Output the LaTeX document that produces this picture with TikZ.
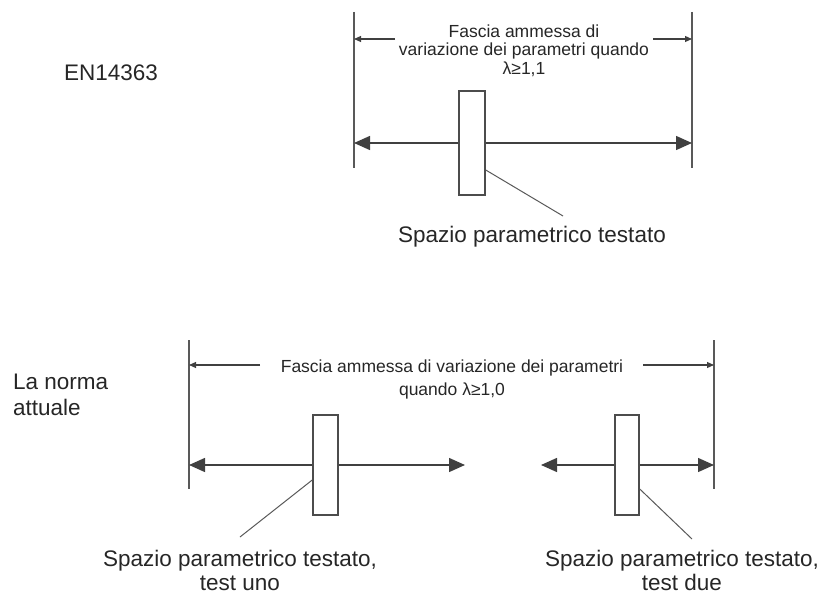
\documentclass[tikz,border=0pt]{standalone}
\usepackage{fontspec}
\setmainfont{Liberation Sans}
\usetikzlibrary{arrows.meta}
\usetikzlibrary{calc}

\begin{document}
\begin{tikzpicture} [
    x = 1pt, y = -1pt,
    tbox/.style = {draw = black!70, line width = 1.5pt, fill = white, inner sep = 0pt},
    guide/.style = {draw = black!65, line width = 1.7pt},
    mainarrow/.style = {draw = black!75, line width = 1.4pt, -{Triangle[length = 16pt, width = 14pt]}},
    dimarrow/.style = {draw = black!75, line width = 1.1pt, -{Triangle[length = 7pt, width = 6pt]}},
    leader/.style = {draw = black!65, line width = 1pt},
    bigtext/.style = {text = black!85, font = \fontsize{22.5}{25}\selectfont, inner sep = 0pt},
    smalltext/.style = {text = black!85, font = \fontsize{17.5}{19}\selectfont, align = center, inner sep = 0pt}
]
\useasboundingbox (0,0) rectangle (823,594);

% top: EN14363
\node (en) at (111,81) [bigtext, anchor = base] {EN14363};

\coordinate (tlt) at (354,12);
\coordinate (tlb) at (354,168);
\coordinate (trt) at (692,12);
\coordinate (trb) at (692,168);
\draw [guide] (tlt) -- (tlb);
\draw [guide] (trt) -- (trb);

\node (tdim) at (524,75) [smalltext, anchor = base] {Fascia ammessa di\\variazione dei parametri quando\\λ≥1,1};
\coordinate (tdl) at (354,39);
\coordinate (tdr) at (692,39);
\draw [dimarrow] (395,39) -- (tdl);
\draw [dimarrow] (653,39) -- (tdr);

\node (tbox) at (472,143) [tbox, minimum width = 26, minimum height = 104] {};
\coordinate (tml) at (354,143);
\coordinate (tmr) at (692,143);
\draw [mainarrow] (tbox.west) -- (tml);
\draw [mainarrow] (tbox.east) -- (tmr);

\node (tlbl) at (532,242) [bigtext, anchor = base] {Spazio parametrico testato};
\coordinate (tlead) at (563,216);
\draw [leader] ($(tbox.east)+(0,27)$) -- (tlead);

% bottom: la norma attuale
\node (norma) at (13,415) [bigtext, anchor = base west, align = left, font = \fontsize{22.5}{26}\selectfont] {La norma\\attuale};

\coordinate (blt) at (189,340);
\coordinate (blb) at (189,489);
\coordinate (brt) at (714,340);
\coordinate (brb) at (714,489);
\draw [guide] (blt) -- (blb);
\draw [guide] (brt) -- (brb);

\node (bdim) at (452,395) [smalltext, anchor = base, font = \fontsize{17.5}{23}\selectfont] {Fascia ammessa di variazione dei parametri\\quando λ≥1,0};
\coordinate (bdl) at (189,365);
\coordinate (bdr) at (714,365);
\draw [dimarrow] (260,365) -- (bdl);
\draw [dimarrow] (643,365) -- (bdr);

\node (boxa) at (325.5,465) [tbox, minimum width = 25, minimum height = 100] {};
\node (boxb) at (627,465) [tbox, minimum width = 24, minimum height = 100] {};
\coordinate (bml) at (189,465);
\coordinate (bmm) at (465,465);
\coordinate (bmn) at (541,465);
\coordinate (bmr) at (714,465);
\draw [mainarrow] (boxa.west) -- (bml);
\draw [mainarrow] (boxa.east) -- (bmm);
\draw [mainarrow] (boxb.west) -- (bmn);
\draw [mainarrow] (boxb.east) -- (bmr);

\node (albl) at (240,590) [bigtext, anchor = base, align = center, font = \fontsize{22.5}{24}\selectfont] {Spazio parametrico testato,\\test uno};
\node (blbl) at (682,590) [bigtext, anchor = base, align = center, font = \fontsize{22.5}{24}\selectfont] {Spazio parametrico testato,\\test due};
\coordinate (alead) at (240,537);
\coordinate (blead) at (692,539);
\draw [leader] ($(boxa.west)+(0,15)$) -- (alead);
\draw [leader] ($(boxb.east)+(0,24)$) -- (blead);

\end{tikzpicture}
\end{document}
